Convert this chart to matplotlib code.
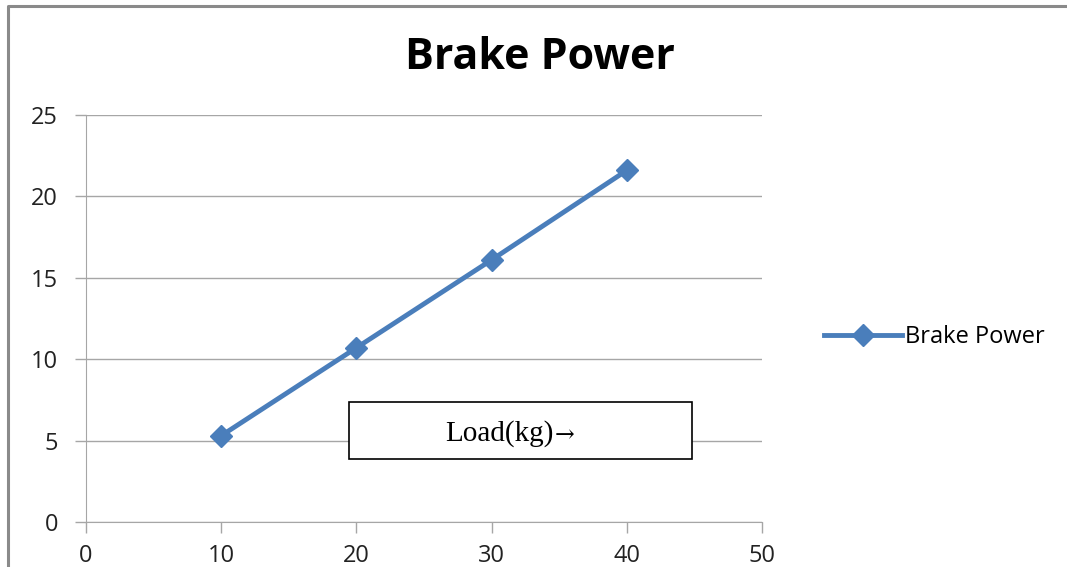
import matplotlib.pyplot as plt
from matplotlib.patches import Rectangle

load_kg = [10, 20, 30, 40]
brake_power = [5.3, 10.7, 16.1, 21.6]
x_ticks = [0, 10, 20, 30, 40, 50]
y_ticks = [0, 5, 10, 15, 20, 25]

blue = '#4a7ebb'
grey = '#a6a6a6'

fig = plt.figure(figsize=(10.67, 5.67), dpi=100)
ax = fig.add_axes([0.0806, 0.0794, 0.714 - 0.0806, 0.797 - 0.0794])

ax.plot(load_kg, brake_power, '-', color=blue, lw=3.5, marker='D', ms=11,
        label='Brake Power', zorder=3)

ax.set_xlim(0, 50)
ax.set_ylim(0, 25)
ax.set_xticks(x_ticks)
ax.set_yticks(y_ticks)
ax.grid(axis='y', color=grey, lw=1)
ax.set_axisbelow(True)
for s in ['top', 'right']:
    ax.spines[s].set_visible(False)
for s in ['left', 'bottom']:
    ax.spines[s].set_color(grey)
ax.tick_params(color=grey, length=8, width=1, labelsize=17)
ax.tick_params(axis='y', pad=12)
ax.tick_params(axis='x', pad=8)
for lab in ax.get_xticklabels() + ax.get_yticklabels():
    lab.set_fontfamily('Open Sans')
    lab.set_color('#222222')

fig.text(0.506, 0.898, 'Brake Power', ha='center', va='center',
         fontsize=31, fontweight='bold', family='Open Sans')

leg = fig.legend(loc='center left', bbox_to_anchor=(0.752, 0.405), frameon=False,
                 prop={'family': 'Open Sans', 'size': 17}, handlelength=3.3,
                 handletextpad=0.15)

# boxed axis caption
fig.patches.append(Rectangle((349 / 1067, 1 - 459 / 567), 343 / 1067, 57 / 567,
                             transform=fig.transFigure, fill=True, fc='white',
                             ec='black', lw=1.2, zorder=5))
fig.text(554 / 1067, 1 - 434 / 567, 'Load(kg)', ha='right', va='center',
         fontsize=21, family='Liberation Serif', zorder=6)
fig.text(555 / 1067, 1 - 436 / 567, '→', ha='left', va='center',
         fontsize=17, family='DejaVu Serif', zorder=6)

# outer frame (top and left visible)
fig.add_artist(plt.Line2D([8 / 1067, 8 / 1067, 1.0], [0.0, 1 - 6 / 567, 1 - 6 / 567],
                          transform=fig.transFigure, color='#8a8a8a', lw=2.2))

fig.savefig('out.png', dpi=100)
